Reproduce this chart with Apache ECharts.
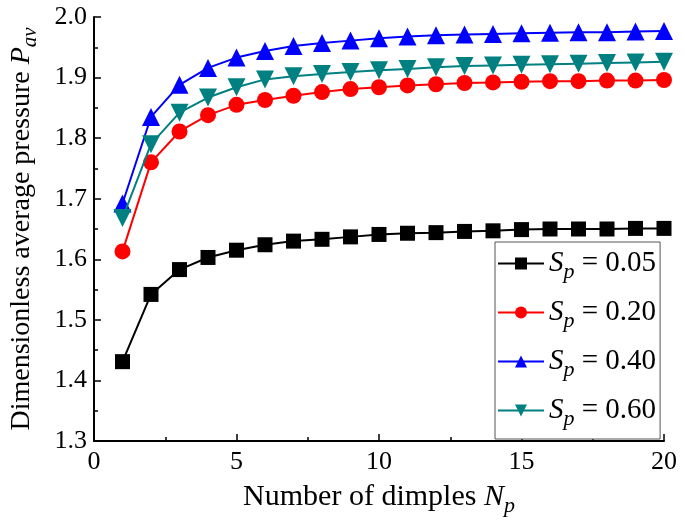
<!DOCTYPE html>
<html>
<head>
<meta charset="utf-8">
<script src="https://cdn.jsdelivr.net/npm/echarts@6/dist/echarts.min.js"></script>
<style>html,body{margin:0;padding:0;background:#fff;}#c{width:685px;height:526px;}</style>
</head>
<body>
<div id="c"></div>
<script>
const Np = [1,2,3,4,5,6,7,8,9,10,11,12,13,14,15,16,17,18,19,20];
const sp005 = [1.431,1.542,1.583,1.603,1.615,1.624,1.630,1.633,1.637,1.641,1.643,1.644,1.646,1.647,1.649,1.650,1.650,1.650,1.651,1.651];
const sp020 = [1.613,1.760,1.811,1.838,1.855,1.863,1.870,1.876,1.881,1.884,1.887,1.889,1.891,1.892,1.893,1.894,1.894,1.895,1.895,1.896];
const sp040 = [1.692,1.835,1.888,1.916,1.933,1.944,1.952,1.957,1.961,1.965,1.968,1.970,1.971,1.972,1.973,1.974,1.975,1.975,1.976,1.977];
const sp060 = [1.668,1.790,1.842,1.867,1.884,1.897,1.902,1.906,1.909,1.912,1.914,1.917,1.919,1.920,1.921,1.922,1.923,1.924,1.925,1.926];
const legendLabels = ['0.05','0.20','0.40','0.60'];
const xTicks = {min:0, max:20, interval:5};
const yTicks = {min:1.3, max:2.0, interval:0.1};

const FONT = '"Liberation Serif","Times New Roman",serif';
const pairs = a => Np.map((x,i)=>[x,a[i]]);

const seriesDefs = [
  {data: sp005, color:'#000000', symbol:'rect', size:15, rot:0},
  {data: sp020, color:'#ff0000', symbol:'circle', size:16, rot:0},
  {data: sp040, color:'#0000ff', symbol:'triangle', size:18, rot:0},
  {data: sp060, color:'#008080', symbol:'triangle', size:18, rot:180}
];

const makeRich = fs => ({
  t:{fontFamily:FONT, fontSize:fs, color:'#000'},
  i:{fontFamily:FONT, fontSize:fs, fontStyle:'italic', color:'#000'},
  sub:{fontFamily:FONT, fontSize:Math.round(fs*0.74), fontStyle:'italic', color:'#000', padding:[Math.round(fs*0.6),0,0,0]}
});

const chart = echarts.init(document.getElementById('c'), null, {renderer:'canvas'});
chart.setOption({
  animation:false,
  backgroundColor:'#fff',
  grid:{left:92, right:21, top:17, bottom:85, containLabel:false},
  xAxis:{
    type:'value', min:xTicks.min, max:xTicks.max, interval:xTicks.interval,
    axisLine:{show:true, onZero:false, lineStyle:{color:'#000', width:2}},
    axisTick:{show:true, inside:true, length:7, lineStyle:{color:'#000', width:1.5}},
    minorTick:{show:true, splitNumber:2, length:4, lineStyle:{color:'#000', width:1.5}},
    splitLine:{show:false},
    axisLabel:{color:'#000', fontFamily:FONT, fontSize:26, margin:8},
    name:'{t|Number of dimples }{i|N}{sub|p}',
    nameLocation:'middle', nameGap:36,
    nameTextStyle:{rich:makeRich(30)}
  },
  yAxis:{
    type:'value', min:yTicks.min, max:yTicks.max, interval:yTicks.interval,
    axisLine:{show:true, onZero:false, lineStyle:{color:'#000', width:2}},
    axisTick:{show:true, inside:true, length:7, lineStyle:{color:'#000', width:1.5}},
    minorTick:{show:true, splitNumber:2, length:4, lineStyle:{color:'#000', width:1.5}},
    splitLine:{show:false},
    axisLabel:{color:'#000', fontFamily:FONT, fontSize:26, margin:7, formatter:v=>v.toFixed(1)},
    name:'{t|Dimensionless average pressure }{i|P}{sub|av}',
    nameLocation:'middle', nameGap:53, nameRotate:90,
    nameTextStyle:{rich:makeRich(28)}
  },
  legend:{
    orient:'vertical', left:495, top:242,
    padding:[7,4,9,2], itemGap:15,
    itemWidth:46, itemHeight:15,
    borderColor:'#555', borderWidth:1,
    backgroundColor:'#fff',
    data:legendLabels.map(l=>'S_p = '+l),
    formatter: n => '{i|S}{sub|p}{n|' + n.slice(3) + '}',
    textStyle:{
      rich:{
        i:{fontFamily:FONT, fontSize:29, fontStyle:'italic', color:'#000'},
        sub:{fontFamily:FONT, fontSize:22, fontStyle:'italic', color:'#000', padding:[17,0,0,0]},
        n:{fontFamily:FONT, fontSize:29, color:'#000'}
      }
    }
  },
  series: seriesDefs.map((d,i)=>({
    name:'S_p = '+legendLabels[i],
    type:'line',
    data:pairs(d.data),
    symbol:d.symbol, symbolSize:d.size, symbolRotate:d.rot,
    showAllSymbol:true,
    clip:true,
    lineStyle:{color:d.color, width:2},
    itemStyle:{color:d.color, borderColor:d.color, borderWidth:0},
    z:2+i
  }))
});
</script>
</body>
</html>
